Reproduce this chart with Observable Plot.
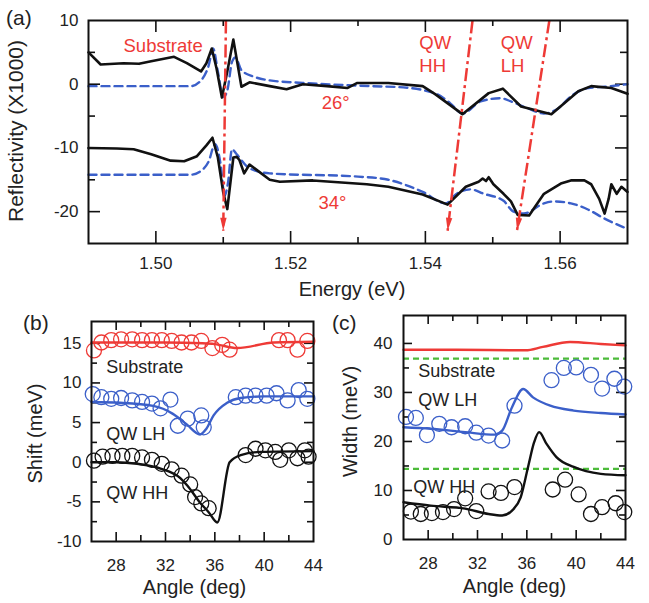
<!DOCTYPE html>
<html><head><meta charset="utf-8">
<script src="https://cdn.jsdelivr.net/npm/d3@7"></script>
<script src="https://cdn.jsdelivr.net/npm/@observablehq/plot@0.6"></script>
<style>
body{margin:0;background:#fff;}
#wrap{position:relative;width:649px;height:603px;overflow:hidden;}
#wrap svg{position:absolute;}
.lab{position:absolute;font-size:21px;font-family:"Liberation Sans",Arial,sans-serif;color:#222;line-height:1;}
</style></head><body>
<div id="wrap"></div>
<script>
// ---------- Panel (a): reflectivity spectra ----------
const exp26E = [1.4900,1.4918,1.4952,1.4975,1.4993,1.5027,1.5046,1.5067,1.5075,1.5083,1.5090,1.5098,1.5106,1.5115,1.5127,1.5139,1.5169,1.5194,1.5218,1.5254,1.5284,1.5299,1.5345,1.5396,1.5415,1.5455,1.5494,1.5515,1.5542,1.5587,1.5627,1.5646,1.5676,1.5700];
const exp26R = [5.0,3.1,3.3,3.2,3.6,4.3,3.3,2.0,3.3,5.6,2.5,-2.1,2.0,7.0,-0.4,0.3,-0.3,-0.8,0.0,-0.3,-0.6,0.2,0.2,-0.3,-1.6,-4.7,-1.4,-0.7,-3.5,-4.7,-1.1,-0.3,-0.6,-1.5];
const fit26E = [1.4900,1.5052,1.5067,1.5078,1.5085,1.5092,1.5100,1.5106,1.5113,1.5118,1.5127,1.5145,1.5169,1.5218,1.5318,1.5367,1.5418,1.5437,1.5455,1.5482,1.5512,1.5527,1.5552,1.5576,1.5597,1.5616,1.5642,1.5666,1.5700];
const fit26R = [-0.3,-0.3,0.6,2.8,5.6,2.0,-2.0,-1.0,3.5,4.2,2.2,1.2,0.6,0.2,-0.3,-0.5,-1.6,-3.0,-4.6,-2.7,-2.2,-2.7,-3.8,-4.6,-3.8,-1.9,-0.6,-0.4,0.0];
const exp34E = [1.4900,1.4942,1.4967,1.4993,1.5022,1.5042,1.5061,1.5075,1.5084,1.5092,1.5100,1.5106,1.5115,1.5120,1.5124,1.5131,1.5139,1.5149,1.5169,1.5184,1.5233,1.5313,1.5345,1.5396,1.5433,1.5460,1.5479,1.5485,1.5490,1.5494,1.5501,1.5516,1.5527,1.5537,1.5554,1.5561,1.5576,1.5601,1.5616,1.5636,1.5646,1.5658,1.5666,1.5672,1.5676,1.5684,1.5691,1.5700];
const exp34R = [-10.0,-10.1,-10.2,-11.0,-12.0,-12.1,-11.3,-9.6,-8.4,-11.5,-17.0,-19.6,-11.5,-11.4,-11.9,-14.0,-12.6,-13.4,-15.0,-15.3,-15.1,-15.7,-16.1,-17.3,-18.9,-16.1,-15.3,-14.8,-15.2,-14.6,-15.7,-17.2,-18.4,-20.5,-20.6,-19.5,-17.2,-15.6,-15.1,-15.1,-15.7,-18.0,-20.3,-18.0,-15.7,-17.2,-16.1,-16.9];
const fit34E = [1.4900,1.5052,1.5067,1.5078,1.5088,1.5096,1.5102,1.5107,1.5113,1.5120,1.5139,1.5169,1.5300,1.5345,1.5396,1.5430,1.5445,1.5467,1.5487,1.5516,1.5531,1.5546,1.5576,1.5591,1.5616,1.5642,1.5666,1.5700];
const fit34R = [-14.2,-14.2,-13.6,-12.2,-9.4,-12.5,-17.5,-15.5,-10.2,-11.0,-13.2,-14.0,-14.5,-15.0,-16.9,-18.7,-17.3,-16.5,-17.2,-18.3,-20.0,-20.3,-18.7,-18.4,-18.7,-19.7,-21.1,-22.7];
// red dash-dot guide arrows (Substrate, QW HH, QW LH)
const arrowTopE = [1.5104, 1.5470, 1.5584];
const arrowTopR = [10, 10, 10];
const arrowTipE = [1.5100, 1.5433, 1.5536];
const arrowTipR = [-23.0, -23.0, -23.0];
const xTicksA = [1.50, 1.52, 1.54, 1.56];
const yTicksA = [10, 0, -10, -20];

// ---------- Panel (b): shift vs angle ----------
const bSubCircA = [26.2,26.8,27.6,28.4,29.3,30.1,30.9,31.7,32.5,33.3,34.1,34.9,35.8,36.6,37.2,41.2,41.9,42.7,43.5];
const bSubCircV = [14.1,15.1,15.4,15.5,15.5,15.4,15.4,15.4,15.3,15.1,15.1,15.3,14.4,14.8,14.2,15.4,15.4,14.2,15.3];
const bLhCircA = [26.1,26.8,27.6,28.4,29.3,30.1,30.9,31.6,32.4,33.0,33.8,34.9,35.1,37.7,38.5,39.3,40.2,41.0,41.9,42.8,43.5];
const bLhCircV = [8.6,8.2,8.0,8.1,7.8,7.6,7.4,6.8,7.9,4.6,5.5,5.9,4.4,8.2,8.4,8.4,8.4,8.7,7.8,9.1,8.0];
const bHhCircA = [26.2,26.9,27.7,28.5,29.3,30.1,30.9,31.7,32.5,33.3,34.0,34.4,34.9,35.5,38.5,39.3,40.1,40.9,41.3,42.0,42.7,43.3,43.6];
const bHhCircV = [0.2,0.7,0.8,0.8,0.8,0.6,0.3,-0.2,-0.9,-1.7,-2.8,-4.4,-5.2,-5.8,0.9,1.7,1.5,1.3,0.3,1.5,0.5,1.5,0.7];
const bSubLineA = [26,32,35,36,37.8,40.8,44];
const bSubLineV = [15.1,15.1,15.0,14.9,14.4,15.1,15.2];
const bLhLineA = [26,28.3,31,32.6,33.7,34.8,35.3,35.9,37,38.1,40,44];
const bLhLineV = [7.6,7.5,7.1,6.1,4.8,3.5,4.2,5.9,7.5,8.1,8.3,8.3];
const bHhLineA = [26,28,29.7,31.6,33.2,33.8,34.8,35.5,36.2,37.2,38.1,39.7,44];
const bHhLineV = [0,0,-0.2,-0.8,-2.0,-3.0,-5.1,-6.3,-7.6,0,0.9,1.3,1.4];
const xTicksBC = [28, 32, 36, 40, 44];
const yTicksB = [15, 10, 5, 0, -5, -10];

// ---------- Panel (c): width vs angle ----------
const cSubLineA = [26,30,35.9,37.3,39.5,42,44];
const cSubLineV = [38.7,38.7,38.6,39.3,40.3,39.9,39.6];
const cGreenV = [36.9, 14.4];
const cLhLineA = [26,28.2,31,33.4,34,34.8,35.7,36.5,37.9,39.8,42,44];
const cLhLineV = [22.9,22.6,21.9,21.4,22.2,27,30.7,29,27.3,26.3,25.8,25.5];
const cHhLineA = [26,28.2,31,32.9,34,34.8,35.5,36.1,36.6,37,37.6,38.4,39.8,42,44];
const cHhLineV = [7.6,6.9,6.3,5.2,4.9,5.9,8.6,14.8,19.9,21.9,19.5,16.8,14.8,13.4,13.1];
const cLhCircA = [26.2,27.0,27.9,28.9,29.9,31.0,31.9,32.9,34.0,35.0,38.0,39.0,40.0,41.2,42.1,43.1,43.9];
const cLhCircV = [25.0,24.8,21.3,23.6,22.9,23.1,21.8,21.2,20.2,27.3,32.5,35.0,35.1,33.6,30.8,32.8,31.2];
const cHhCircA = [26.6,27.4,28.3,29.2,30.1,31.0,31.9,32.9,33.9,35.0,38.1,39.1,40.2,41.2,42.1,43.2,43.9];
const cHhCircV = [5.7,5.2,5.4,5.6,6.2,8.4,5.8,9.8,9.5,10.7,10.2,12.2,9.2,5.2,6.6,7.4,5.6];
const yTicksC = [40, 30, 20, 10, 0];

// ---------- styling ----------
const FONT = '"Liberation Sans", Arial, Helvetica, sans-serif';
const RED = "#ee3a36", BLUE = "#3b5fc9", GREEN = "#4cbb3a", INK = "#111";
const zip = (a, b) => a.map((x, i) => ({x, y: b[i]}));

function inTicksX(vals, len, fh) {
  return [Plot.ruleX(vals, {insetTop: fh - len, strokeWidth: 1.6, stroke: INK}),
          Plot.ruleX(vals, {insetBottom: fh - len, strokeWidth: 1.6, stroke: INK})];
}
function inTicksY(vals, len, fw) {
  return [Plot.ruleY(vals, {insetRight: fw - len, strokeWidth: 1.6, stroke: INK}),
          Plot.ruleY(vals, {insetLeft: fw - len, strokeWidth: 1.6, stroke: INK})];
}
function axisLabel(text, anchor, dx, dy, rotate, size = 20) {
  return Plot.text([text], {frameAnchor: anchor, dx, dy, rotate, text: d => d, fontSize: size, fill: "#222",
    textAnchor: "middle", lineAnchor: "middle"});
}
const wrap = document.getElementById("wrap");
function place(svg, left, top) { svg.style.left = left + "px"; svg.style.top = top + "px"; wrap.appendChild(svg); }
function lab(text, left, top) {
  const d = document.createElement("div"); d.className = "lab"; d.textContent = text;
  d.style.left = left + "px"; d.style.top = top + "px"; wrap.appendChild(d);
}

// ---------- build (a) ----------
{
  const W = 649, H = 300, mL = 88, mR = 22, mT = 20, mB = 57;
  const fw = W - mL - mR, fh = H - mT - mB;
  const kx = fw / 0.08, ky = fh / 35;
  const arrows = arrowTopE.map((e, i) => ({
    x1: e, y1: arrowTopR[i], x2: arrowTipE[i], y2: arrowTipR[i],
    rot: Math.atan2((e - arrowTipE[i]) * kx, (arrowTopR[i] - arrowTipR[i]) * ky) * 180 / Math.PI
  }));
  const arrowHead = {draw(ctx) { ctx.moveTo(0, 0); ctx.lineTo(-3.2, -13); ctx.lineTo(3.2, -13); ctx.closePath(); }};
  const svg = Plot.plot({
    width: W, height: H, marginLeft: mL, marginRight: mR, marginTop: mT, marginBottom: mB,
    style: {fontSize: "17px", fontFamily: FONT, color: "#222", background: "transparent", overflow: "visible"},
    x: {domain: [1.49, 1.57], ticks: xTicksA, tickFormat: d3.format(".2f"), tickSize: 0, tickPadding: 13, label: null},
    y: {domain: [-25, 10], ticks: yTicksA, tickFormat: d => String(d), tickSize: 0, tickPadding: 10, label: null},
    marks: [
      ...inTicksX([1.50, 1.52, 1.54, 1.56], 12, fh),
      ...inTicksX([1.51, 1.53, 1.55], 6, fh),
      ...inTicksY([0, -10, -20], 12, fw),
      ...inTicksY([5, -5, -15], 7, fw),
      Plot.line(zip(fit26E, fit26R), {x: "x", y: "y", stroke: BLUE, strokeWidth: 2.4, strokeDasharray: "8,5", curve: "monotone-x"}),
      Plot.line(zip(fit34E, fit34R), {x: "x", y: "y", stroke: BLUE, strokeWidth: 2.4, strokeDasharray: "8,5", curve: "monotone-x"}),
      Plot.line(zip(exp26E, exp26R), {x: "x", y: "y", stroke: INK, strokeWidth: 2.6}),
      Plot.line(zip(exp34E, exp34R), {x: "x", y: "y", stroke: INK, strokeWidth: 2.6}),
      Plot.link(arrows, {x1: "x1", y1: "y1", x2: "x2", y2: "y2", stroke: RED, strokeWidth: 2.5, strokeDasharray: "13,4,3,4"}),
      Plot.dot(arrows, {x: "x2", y: "y2", symbol: arrowHead, rotate: "rot", fill: RED, stroke: "none"}),
      Plot.text(["Substrate"], {x: 1.4952, y: 6.0, text: d => d, textAnchor: "start", fill: RED, fontSize: 18.5}),
      Plot.text(["QW"], {x: 1.5391, y: 6.4, text: d => d, textAnchor: "start", fill: RED, fontSize: 18.5}),
      Plot.text(["HH"], {x: 1.5391, y: 2.8, text: d => d, textAnchor: "start", fill: RED, fontSize: 18.5}),
      Plot.text(["QW"], {x: 1.5512, y: 6.4, text: d => d, textAnchor: "start", fill: RED, fontSize: 18.5}),
      Plot.text(["LH"], {x: 1.5512, y: 2.8, text: d => d, textAnchor: "start", fill: RED, fontSize: 18.5}),
      Plot.text(["26°"], {x: 1.5267, y: -3.0, text: d => d, fill: RED, fontSize: 18.5}),
      Plot.text(["34°"], {x: 1.5262, y: -18.6, text: d => d, fill: RED, fontSize: 18.5}),
      axisLabel("Energy (eV)", "bottom", -6, 46, 0),
      axisLabel("Reflectivity (X1000)", "left", -72, -1, -90, 21),
      Plot.frame({stroke: INK, strokeWidth: 2})
    ]
  });
  place(svg, 0, 0);
}

// ---------- build (b) ----------
{
  const W = 325, H = 303, mL = 91, mR = 12, mT = 21, mB = 62;
  const fw = W - mL - mR, fh = H - mT - mB;
  const svg = Plot.plot({
    width: W, height: H, marginLeft: mL, marginRight: mR, marginTop: mT, marginBottom: mB,
    style: {fontSize: "17px", fontFamily: FONT, color: "#222", background: "transparent", overflow: "visible"},
    x: {domain: [26, 44], ticks: xTicksBC, tickSize: 0, tickPadding: 17, label: null},
    y: {domain: [-10, 17.75], ticks: yTicksB, tickFormat: d => String(d), tickSize: 0, tickPadding: 10, label: null},
    marks: [
      ...inTicksX([28, 32, 36, 40], 9, fh),
      ...inTicksX([30, 34, 38, 42], 6, fh),
      ...inTicksY([15, 10, 5, 0, -5], 9, fw),
      ...inTicksY([12.5, 7.5, 2.5, -2.5, -7.5], 6, fw),
      Plot.dot(zip(bSubCircA, bSubCircV), {x: "x", y: "y", r: 7.5, stroke: RED, strokeWidth: 1.3, fill: "none"}),
      Plot.dot(zip(bLhCircA, bLhCircV), {x: "x", y: "y", r: 7.5, stroke: BLUE, strokeWidth: 1.3, fill: "none"}),
      Plot.dot(zip(bHhCircA, bHhCircV), {x: "x", y: "y", r: 7.5, stroke: INK, strokeWidth: 1.3, fill: "none"}),
      Plot.line(zip(bSubLineA, bSubLineV), {x: "x", y: "y", stroke: RED, strokeWidth: 2.4, curve: "monotone-x"}),
      Plot.line(zip(bLhLineA, bLhLineV), {x: "x", y: "y", stroke: BLUE, strokeWidth: 2.4, curve: "monotone-x"}),
      Plot.line(zip(bHhLineA, bHhLineV), {x: "x", y: "y", stroke: INK, strokeWidth: 2.4, curve: "monotone-x"}),
      Plot.text(["Substrate"], {x: 27.2, y: 11.95, text: d => d, textAnchor: "start", fontSize: 18, fill: "#222"}),
      Plot.text(["QW LH"], {x: 27.2, y: 3.5, text: d => d, textAnchor: "start", fontSize: 18, fill: "#222"}),
      Plot.text(["QW HH"], {x: 27.2, y: -3.95, text: d => d, textAnchor: "start", fontSize: 18, fill: "#222"}),
      axisLabel("Angle (deg)", "bottom", -8, 46, 0),
      axisLabel("Shift (meV)", "left", -56, 2, -90),
      Plot.frame({stroke: INK, strokeWidth: 2})
    ]
  });
  place(svg, 0, 300);
}

// ---------- build (c) ----------
{
  const W = 324, H = 303, mL = 78, mR = 24, mT = 15, mB = 64;
  const fw = W - mL - mR, fh = H - mT - mB;
  const svg = Plot.plot({
    width: W, height: H, marginLeft: mL, marginRight: mR, marginTop: mT, marginBottom: mB,
    style: {fontSize: "17px", fontFamily: FONT, color: "#222", background: "transparent", overflow: "visible"},
    x: {domain: [26, 44], ticks: xTicksBC, tickSize: 0, tickPadding: 17, label: null},
    y: {domain: [0, 45.7], ticks: yTicksC, tickSize: 0, tickPadding: 11, label: null},
    marks: [
      ...inTicksX([28, 32, 36, 40], 9, fh),
      ...inTicksX([30, 34, 38, 42], 6, fh),
      ...inTicksY([40, 30, 20, 10], 9, fw),
      ...inTicksY([35, 25, 15, 5], 6, fw),
      Plot.ruleY(cGreenV, {stroke: GREEN, strokeWidth: 2.2, strokeDasharray: "6,4"}),
      Plot.dot(zip(cLhCircA, cLhCircV), {x: "x", y: "y", r: 7.5, stroke: BLUE, strokeWidth: 1.3, fill: "none"}),
      Plot.dot(zip(cHhCircA, cHhCircV), {x: "x", y: "y", r: 7.5, stroke: INK, strokeWidth: 1.3, fill: "none"}),
      Plot.line(zip(cSubLineA, cSubLineV), {x: "x", y: "y", stroke: RED, strokeWidth: 2.4, curve: "monotone-x"}),
      Plot.line(zip(cLhLineA, cLhLineV), {x: "x", y: "y", stroke: BLUE, strokeWidth: 2.4, curve: "monotone-x"}),
      Plot.line(zip(cHhLineA, cHhLineV), {x: "x", y: "y", stroke: INK, strokeWidth: 2.4, curve: "monotone-x"}),
      Plot.text(["Substrate"], {x: 27.2, y: 34.3, text: d => d, textAnchor: "start", fontSize: 18, fill: "#222"}),
      Plot.text(["QW LH"], {x: 27.2, y: 28.4, text: d => d, textAnchor: "start", fontSize: 18, fill: "#222"}),
      Plot.text(["QW HH"], {x: 26.8, y: 10.6, text: d => d, textAnchor: "start", fontSize: 18, fill: "#222"}),
      axisLabel("Angle (deg)", "bottom", 0, 47, 0),
      axisLabel("Width (meV)", "left", -53, -6, -90),
      Plot.frame({stroke: INK, strokeWidth: 2})
    ]
  });
  place(svg, 325, 300);
}

// panel letters
lab("(a)", 6, 7);
lab("(b)", 23, 312);
lab("(c)", 332, 312);
</script>
</body></html>
